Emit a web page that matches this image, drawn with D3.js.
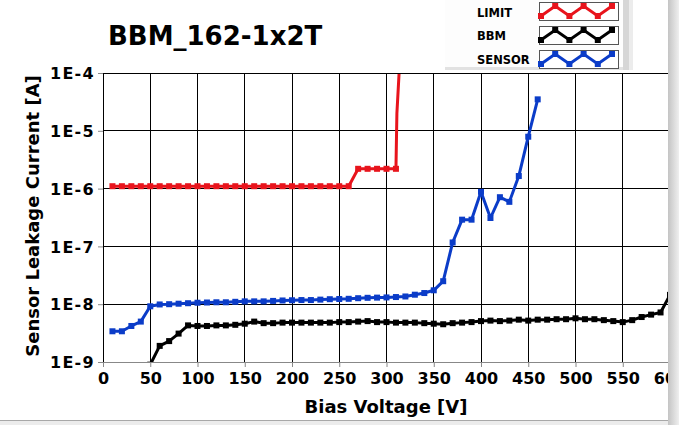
<!DOCTYPE html>
<html>
<head>
<meta charset="UTF-8">
<title>BBM_162-1x2T</title>
<script src="https://cdn.jsdelivr.net/npm/d3@7"></script>
<style>
  body { margin: 0; background: #fff; }
  text { font-family: "DejaVu Sans", Verdana, sans-serif; font-weight: bold; fill: #000; }
</style>
</head>
<body>
<svg id="chart" width="679" height="425"></svg>
<script>
// ---- data ----
const xTicks = [0, 50, 100, 150, 200, 250, 300, 350, 400, 450, 500, 550, 600];
const yTicks = [1e-9, 1e-8, 1e-7, 1e-6, 1e-5, 1e-4];
const yTickLabels = ["1E-9", "1E-8", "1E-7", "1E-6", "1E-5", "1E-4"];

const limitV = [10, 20, 30, 40, 50, 60, 70, 80, 90, 100, 110, 120, 130, 140, 150, 160, 170, 180, 190, 200,
  210, 220, 230, 240, 250, 260, 270, 280, 290, 300, 310];
const limitI = [1.1e-6, 1.1e-6, 1.1e-6, 1.1e-6, 1.1e-6, 1.1e-6, 1.1e-6, 1.1e-6, 1.1e-6, 1.1e-6,
  1.1e-6, 1.1e-6, 1.1e-6, 1.1e-6, 1.1e-6, 1.1e-6, 1.1e-6, 1.1e-6, 1.1e-6, 1.1e-6,
  1.1e-6, 1.1e-6, 1.1e-6, 1.1e-6, 1.1e-6, 1.1e-6, 2.2e-6, 2.2e-6, 2.2e-6, 2.2e-6, 2.2e-6];
// compliance jump after the last point (line only, no markers)
const limitTailV = [311, 320];
const limitTailI = [2e-5, 1e-2];

const bbmV = [50, 60, 70, 80, 90, 100, 110, 120, 130, 140, 150, 160, 170, 180, 190, 200, 210, 220, 230, 240,
  250, 260, 270, 280, 290, 300, 310, 320, 330, 340, 350, 360, 370, 380, 390, 400, 410, 420, 430, 440,
  450, 460, 470, 480, 490, 500, 510, 520, 530, 540, 550, 560, 570, 580, 590, 600];
const bbmI = [9e-10, 1.9e-9, 2.3e-9, 3.1e-9, 4.3e-9, 4.2e-9, 4.2e-9, 4.3e-9, 4.3e-9, 4.4e-9,
  4.6e-9, 5.0e-9, 4.7e-9, 4.7e-9, 4.8e-9, 4.8e-9, 4.8e-9, 4.8e-9, 4.8e-9, 4.8e-9,
  4.9e-9, 4.9e-9, 5.0e-9, 5.1e-9, 4.9e-9, 4.9e-9, 4.8e-9, 4.8e-9, 4.8e-9, 4.7e-9,
  4.6e-9, 4.5e-9, 4.7e-9, 4.8e-9, 4.9e-9, 5.1e-9, 5.2e-9, 5.1e-9, 5.2e-9, 5.4e-9,
  5.2e-9, 5.4e-9, 5.4e-9, 5.5e-9, 5.5e-9, 5.7e-9, 5.5e-9, 5.5e-9, 5.3e-9, 5.1e-9,
  4.9e-9, 5.3e-9, 6.0e-9, 6.6e-9, 7.2e-9, 1.45e-8];

const sensorV = [10, 20, 30, 40, 50, 60, 70, 80, 90, 100, 110, 120, 130, 140, 150, 160, 170, 180, 190, 200,
  210, 220, 230, 240, 250, 260, 270, 280, 290, 300, 310, 320, 330, 340, 350, 360, 370, 380, 390, 400,
  410, 420, 430, 440, 450, 460];
const sensorI = [3.4e-9, 3.4e-9, 4.2e-9, 5.0e-9, 9.2e-9, 9.9e-9, 1.0e-8, 1.02e-8, 1.04e-8, 1.06e-8,
  1.07e-8, 1.08e-8, 1.08e-8, 1.1e-8, 1.12e-8, 1.12e-8, 1.12e-8, 1.14e-8, 1.16e-8, 1.17e-8,
  1.18e-8, 1.18e-8, 1.2e-8, 1.22e-8, 1.23e-8, 1.24e-8, 1.27e-8, 1.29e-8, 1.3e-8, 1.31e-8,
  1.33e-8, 1.36e-8, 1.46e-8, 1.56e-8, 1.74e-8, 2.5e-8, 1.17e-7, 2.9e-7, 2.9e-7, 8.8e-7,
  3.1e-7, 7.1e-7, 5.9e-7, 1.65e-6, 7.9e-6, 3.5e-5];

const seriesNames = ["LIMIT", "BBM", "SENSOR"];
const seriesColors = ["#e8141c", "#000000", "#0b3cc8"];

// ---- layout ----
const svg = d3.select('#chart');
const W = 679, H = 425;
const plot = { left: 103, right: 670, top: 73, bottom: 362 };

svg.append('rect').attr('width', W).attr('height', H).attr('fill', '#fff');

const x = d3.scaleLinear().domain([0, 600]).range([plot.left, plot.right]);
const y = d3.scaleLog().domain([1e-9, 1e-4]).range([plot.bottom, plot.top]);

svg.append('defs').append('clipPath').attr('id', 'clip')
  .append('rect')
  .attr('x', plot.left).attr('y', plot.top)
  .attr('width', plot.right - plot.left + 2).attr('height', plot.bottom - plot.top);

// grid
const grid = svg.append('g');
grid.selectAll('.vg').data(xTicks).join('line')
  .attr('x1', d => x(d)).attr('x2', d => x(d))
  .attr('y1', plot.top).attr('y2', plot.bottom)
  .attr('stroke', '#000').attr('stroke-width', 1).attr('shape-rendering', 'crispEdges');
grid.selectAll('.hg').data(yTicks).join('line')
  .attr('x1', plot.left).attr('x2', plot.right + 2)
  .attr('y1', d => y(d)).attr('y2', d => y(d))
  .attr('stroke', '#000').attr('stroke-width', 1).attr('shape-rendering', 'crispEdges');

// axes
const xAxis = d3.axisBottom(x).tickValues(xTicks).tickSize(5).tickPadding(6).tickFormat(d3.format('d'));
const gx = svg.append('g').attr('transform', `translate(0,${plot.bottom})`).call(xAxis);
gx.select('.domain').attr('stroke', '#888').attr('d', `M${plot.left},0.5H${plot.right + 2}`);
gx.selectAll('.tick line').attr('stroke', '#888');
gx.selectAll('.tick text').attr('font-size', 16).attr('font-family', '"DejaVu Sans", Verdana, sans-serif')
  .attr('font-weight', 'bold').attr('fill', '#000');

const yAxis = d3.axisLeft(y).tickValues(yTicks).tickSize(5).tickPadding(3)
  .tickFormat((d, i) => yTickLabels[i]);
const gy = svg.append('g').attr('transform', `translate(${plot.left},0)`).call(yAxis);
gy.select('.domain').attr('stroke', '#000').attr('d', `M0.5,${plot.top}V${plot.bottom}`);
gy.selectAll('.tick line').attr('stroke', '#888');
gy.selectAll('.tick text').attr('font-size', 16).attr('font-family', '"DejaVu Sans", Verdana, sans-serif')
  .attr('font-weight', 'bold').attr('fill', '#000').attr('letter-spacing', 1.3).attr('dy', '0.36em');

// series
const line = d3.line().x(d => x(d[0])).y(d => y(d[1]));
const marks = svg.append('g').attr('clip-path', 'url(#clip)');

function drawSeries(vs, is, color, tail) {
  const pts = vs.map((v, i) => [v, is[i]]);
  const all = tail ? pts.concat(tail) : pts;
  marks.append('path').datum(all)
    .attr('d', line).attr('fill', 'none')
    .attr('stroke', color).attr('stroke-width', 3).attr('stroke-linejoin', 'round');
  marks.append('g').selectAll('rect').data(pts).join('rect')
    .attr('x', d => x(d[0]) - 3).attr('y', d => y(d[1]) - 3)
    .attr('width', 6).attr('height', 6).attr('fill', color);
}
drawSeries(bbmV, bbmI, seriesColors[1]);
drawSeries(sensorV, sensorI, seriesColors[2]);
drawSeries(limitV, limitI, seriesColors[0], limitTailV.map((v, i) => [v, limitTailI[i]]));

// frame top
svg.append('line').attr('x1', plot.left).attr('x2', plot.right + 2)
  .attr('y1', plot.top).attr('y2', plot.top)
  .attr('stroke', '#000').attr('shape-rendering', 'crispEdges');

// titles
svg.append('text').attr('x', 108).attr('y', 45).attr('font-size', 26).text('BBM_162-1x2T');
svg.append('text').attr('x', 386).attr('y', 413).attr('text-anchor', 'middle')
  .attr('font-size', 18).text('Bias Voltage [V]');
svg.append('text').attr('transform', 'translate(39,216) rotate(-90)').attr('text-anchor', 'middle')
  .attr('font-size', 18).text('Sensor Leakage Current [A]');

// legend panel
const lg = svg.append('g');
lg.append('rect').attr('x', 445).attr('y', 0).attr('width', 188).attr('height', 70).attr('fill', '#fdfdfd');
lg.append('rect').attr('x', 445).attr('y', 67).attr('width', 188).attr('height', 3).attr('fill', '#e2e2e2');
lg.append('rect').attr('x', 623).attr('y', 0).attr('width', 10).attr('height', 70).attr('fill', '#d6d6d6');
lg.append('rect').attr('x', 629).attr('y', 0).attr('width', 4).attr('height', 70).attr('fill', '#ececec');

const zigX = d3.scaleLinear().domain([0, 5]).range([541, 612]);
const boxTop = [2, 26, 50];
const textBase = [17, 40, 64];
seriesNames.forEach((name, k) => {
  lg.append('text').attr('x', 477).attr('y', textBase[k]).attr('font-size', 11.5).text(name);
  lg.append('rect').attr('x', 539.5).attr('y', boxTop[k] + 0.5).attr('width', 79).attr('height', 18)
    .attr('fill', '#fff').attr('stroke', '#555');
  const zz = d3.range(6).map(i => [zigX(i), boxTop[k] + (i % 2 === 0 ? 14 : 4)]);
  lg.append('path').attr('d', d3.line()(zz)).attr('fill', 'none')
    .attr('stroke', seriesColors[k]).attr('stroke-width', 3);
  lg.selectAll(null).data(zz).join('rect')
    .attr('x', d => d[0] - 3).attr('y', d => d[1] - 3).attr('width', 6).attr('height', 6)
    .attr('fill', seriesColors[k]);
});

// window border bits
const grad = svg.append('defs').append('linearGradient').attr('id', 'edge');
grad.append('stop').attr('offset', '0%').attr('stop-color', '#c4c4c4');
grad.append('stop').attr('offset', '100%').attr('stop-color', '#efefef');
svg.append('rect').attr('x', 0).attr('y', 420).attr('width', W).attr('height', 5).attr('fill', '#ececec');
svg.append('line').attr('x1', 0).attr('x2', W).attr('y1', 420.5).attr('y2', 420.5).attr('stroke', '#a8a8a8');
svg.append('rect').attr('x', 668).attr('y', 0).attr('width', 11).attr('height', H).attr('fill', 'url(#edge)');
</script>
</body>
</html>
